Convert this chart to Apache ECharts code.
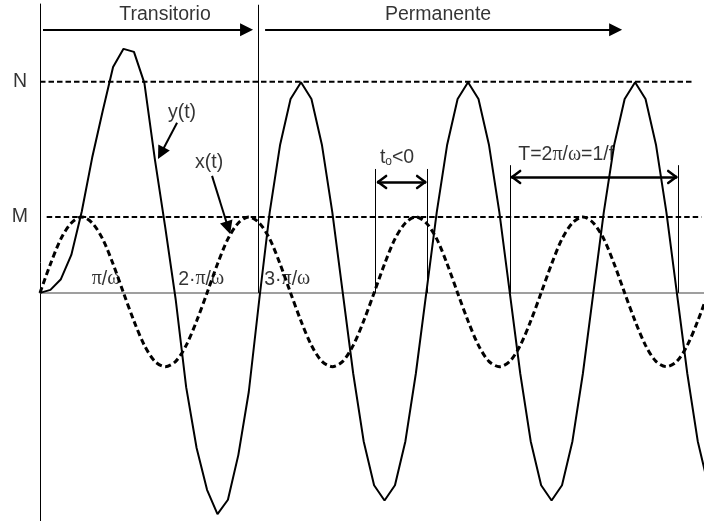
<!DOCTYPE html>
<html><head><meta charset="utf-8">
<script src="https://cdn.jsdelivr.net/npm/echarts@6/dist/echarts.min.js"></script>
<style>html,body{margin:0;padding:0;background:#fff}#c{width:704px;height:521px}</style>
</head><body><div id="c"></div>
<script>
// sample times (units of pi/omega)
const times = [0,0.125,0.25,0.375,0.5,0.625,0.75,0.875,1,1.125,1.25,1.375,1.5,1.625,1.75,1.875,
  2,2.125,2.25,2.375,2.5,2.625,2.75,2.875,3,3.125,3.25,3.375,3.5,3.625,3.75,3.875,
  4,4.125,4.25,4.375,4.5,4.625,4.75,4.875,5,5.125,5.25,5.375,5.5,5.625,5.75,5.875,
  6,6.125,6.25,6.375,6.5,6.625,6.75,6.875,7,7.125,7.25,7.375,7.5,7.625,7.75,7.875,8];
// input x(t) (dashed)
const xValues = [0,0.38,0.71,0.92,1,0.92,0.71,0.38,0,-0.37,-0.69,-0.9,-0.97,-0.9,-0.69,-0.37,
  0,0.38,0.71,0.92,1,0.92,0.71,0.38,0,-0.37,-0.69,-0.9,-0.97,-0.9,-0.69,-0.37,
  0,0.38,0.71,0.92,1,0.92,0.71,0.38,0,-0.37,-0.69,-0.9,-0.97,-0.9,-0.69,-0.37,
  0,0.38,0.71,0.92,1,0.92,0.71,0.38,0,-0.37,-0.69,-0.9,-0.97,-0.9,-0.69,-0.37,0];
// output y(t) (solid)
const yValues = [0,0.04,0.18,0.5,1.07,1.78,2.39,2.97,3.21,3.17,2.76,1.76,0.86,-0.09,-1.24,-2.04,
  -2.59,-2.91,-2.72,-2.13,-1.3,-0.09,1.06,1.95,2.55,2.77,2.55,1.95,1.06,0,-1.06,-1.95,
  -2.53,-2.73,-2.53,-1.95,-1.06,0,1.06,1.95,2.55,2.77,2.55,1.95,1.06,0,-1.06,-1.95,
  -2.53,-2.73,-2.53,-1.95,-1.06,0,1.06,1.95,2.55,2.77,2.55,1.95,1.06,0,-1.06,-1.95,-2.53];
// reference levels
const levelNames = ['N','M'];
const levelValues = [2.776, 1.0];
// annotation texts
const labelTexts = ['Transitorio','Permanente','N','M','y(t)','x(t)',
  '{s|π}/{s|ω}','2·{s|π}/{s|ω}','3·{s|π}/{s|ω}','t{sub|o}<0','T=2{s|π}/{s|ω}=1/f'];

const labelPos = [[1.497,3.66],[4.766,3.66],[-0.24,levelValues[0]],[-0.24,levelValues[1]],[1.70,2.37],[2.024,1.72],
  [0.79,0.18],[1.93,0.18],[2.96,0.18],[4.275,1.78],[6.30,1.82]];

const xSeries = times.map((t,i)=>[t,xValues[i]]);
const ySeries = times.map((t,i)=>[t,yValues[i]]);

const dxc = 0.096, dyc = 0.079;
function dbl(a,b,v){
  return [
    {coords:[[a,v],[b,v]]},
    {coords:[[a,v],[a+dxc,v+dyc]]},{coords:[[a,v],[a+dxc,v-dyc]]},
    {coords:[[b,v],[b-dxc,v+dyc]]},{coords:[[b,v],[b-dxc,v-dyc]]}
  ];
}

const chart = echarts.init(document.getElementById('c'), null, {renderer:'canvas'});
chart.setOption({
  animation:false,
  grid:{left:40,right:0,top:4,bottom:0},
  xAxis:{type:'value',min:0,max:7.95,
    axisLine:{show:true,onZero:true,lineStyle:{color:'#808080',width:1.5}},
    axisTick:{show:false},axisLabel:{show:false},splitLine:{show:false}},
  yAxis:{type:'value',min:-3,max:3.8,
    axisLine:{show:true,lineStyle:{color:'#000',width:1}},
    axisTick:{show:false},axisLabel:{show:false},splitLine:{show:false}},
  series:[
    {type:'line',data:[[0,levelValues[0]],[7.82,levelValues[0]]],showSymbol:false,silent:true,
      lineStyle:{color:'#000',width:2,type:[5.5,3]}},
    {type:'line',data:[[0.08,levelValues[1]],[7.92,levelValues[1]]],showSymbol:false,silent:true,
      lineStyle:{color:'#000',width:2,type:[5.5,3]}},
    {type:'line',name:'x(t)',data:xSeries,showSymbol:false,smooth:0.3,silent:true,
      lineStyle:{color:'#000',width:3,type:[6,3.5]}},
    {type:'line',name:'y(t)',data:ySeries,showSymbol:false,silent:true,
      lineStyle:{color:'#000',width:2}},
    // vertical marker lines
    {type:'lines',coordinateSystem:'cartesian2d',silent:true,symbol:'none',
      lineStyle:{color:'#000',width:1,opacity:1},
      data:[{coords:[[2.617,3.79],[2.617,0]]},{coords:[[4.012,1.63],[4.012,0]]},{coords:[[4.635,1.63],[4.635,0]]},
        {coords:[[5.629,1.68],[5.629,0]]},{coords:[[7.641,1.68],[7.641,0]]}]},
    // filled-head arrows
    {type:'lines',coordinateSystem:'cartesian2d',silent:true,symbol:['none','triangle'],symbolSize:[10,13],
      lineStyle:{color:'#000',width:2,opacity:1},itemStyle:{color:'#000'},
      data:[{coords:[[0.036,3.46],[2.473,3.46]]},{coords:[[2.695,3.46],[6.892,3.46]]},
        {coords:[[1.641,2.237],[1.449,1.838]]},{coords:[[2.060,1.539],[2.253,0.858]]}]},
    // double arrows with open heads
    {type:'lines',coordinateSystem:'cartesian2d',silent:true,symbol:'none',
      lineStyle:{color:'#000',width:2.5,opacity:1,cap:'round'},
      data:[].concat(dbl(4.048,4.611,1.46),dbl(5.653,7.617,1.526))},
    // text labels
    {type:'scatter',clip:false,silent:true,symbolSize:1,itemStyle:{color:'transparent'},
      data:labelTexts.map((s,i)=>({name:s,value:labelPos[i]})),
      label:{show:true,position:'inside',color:'#000',fontFamily:'Liberation Sans',fontSize:19.5,
        formatter:p=>p.name,
        rich:{s:{fontFamily:'Liberation Serif',fontSize:20,color:'#000'},
              sub:{fontFamily:'Liberation Sans',fontSize:12,color:'#000',verticalAlign:'bottom',lineHeight:12}}}}
  ]
});
</script></body></html>
